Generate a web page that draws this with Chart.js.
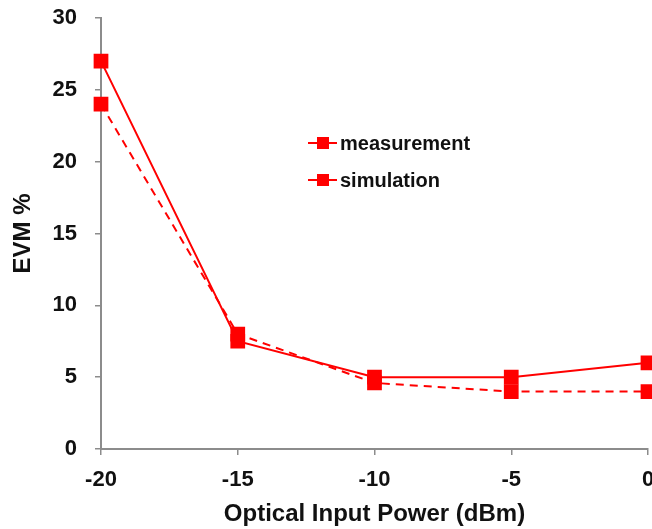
<!DOCTYPE html>
<html>
<head>
<meta charset="utf-8">
<script src="https://cdn.jsdelivr.net/npm/chart.js@4"></script>
<style>
  body { margin: 0; overflow: hidden; background: #fff; }
  #wrap { position: relative; width: 652px; height: 529px; overflow: hidden; }
  canvas { position: absolute; left: 0; top: 0; }
  .legend { position: absolute; left: 308px; font: bold 20px "Liberation Sans", Arial, sans-serif; color: #111; }
  .legend .item { position: relative; height: 37px; line-height: 20px; padding-left: 32px; }
  .legend .ln { position: absolute; left: 0; top: 9px; width: 29px; height: 2px; background: #ff0000; }
  .legend .sq { position: absolute; left: 9px; top: 4px; width: 12px; height: 12px; background: #ff0000; }
</style>
</head>
<body>
<div id="wrap">
  <canvas id="evmChart" width="670" height="529"></canvas>
  <div class="legend" style="top:133px">
    <div class="item"><span class="ln"></span><span class="sq"></span>measurement</div>
    <div class="item"><span class="ln"></span><span class="sq"></span>simulation</div>
  </div>
</div>
<script>
// values
var inputPower = [-20, -15, -10, -5, 0];
var measurement = [27, 7.5, 5, 5, 6];
var simulation = [24, 8, 4.6, 4, 4];
var yTicks = [0, 5, 10, 15, 20, 25, 30];

var red = "#ff0000";
var axisGrey = "#8c8c8c";
var fontFamily = "'Liberation Sans', Arial, sans-serif";
var tickFont = { family: fontFamily, size: 22, weight: "bold" };
var titleFont = { family: fontFamily, size: 24, weight: "bold" };

function toPoints(xs, ys) {
  return xs.map(function (x, i) { return { x: x, y: ys[i] }; });
}

var ctx = document.getElementById("evmChart").getContext("2d");
var evmChart = new Chart(ctx, {
  type: "line",
  data: {
    datasets: [
      {
        label: "measurement",
        data: toPoints(inputPower, measurement),
        borderColor: red,
        backgroundColor: red,
        borderWidth: 2,
        pointStyle: "rect",
        pointRadius: 9,
        pointHoverRadius: 9,
      },
      {
        label: "simulation",
        data: toPoints(inputPower, simulation),
        borderColor: red,
        backgroundColor: red,
        borderWidth: 2,
        borderDash: [8, 6],
        pointStyle: "rect",
        pointRadius: 9,
        pointHoverRadius: 9,
      },
    ],
  },
  options: {
    responsive: false,
    animation: false,
    clip: false,
    layout: { padding: { left: 0, top: 18, right: 22, bottom: 0 } },
    plugins: { legend: { display: false }, tooltip: { enabled: false } },
    scales: {
      x: {
        type: "linear",
        min: -20,
        max: 0,
        afterFit: function (scale) {
          scale.height = 80;
          scale.paddingLeft = 0;
          scale.paddingRight = 0;
        },
        afterBuildTicks: function (scale) {
          scale.ticks = inputPower.map(function (v) { return { value: v }; });
        },
        border: { color: axisGrey, width: 2 },
        grid: { drawOnChartArea: false, color: axisGrey, tickLength: 6, lineWidth: 1.5 },
        ticks: { color: "#111", font: tickFont, padding: 12, maxRotation: 0 },
        title: {
          display: true,
          text: "Optical Input Power (dBm)",
          color: "#111",
          font: titleFont,
          padding: { top: 0, bottom: 0 },
        },
      },
      y: {
        min: 0,
        max: 30,
        afterFit: function (scale) {
          scale.width = 101;
          scale.paddingTop = 0;
          scale.paddingBottom = 0;
        },
        afterBuildTicks: function (scale) {
          scale.ticks = yTicks.map(function (v) { return { value: v }; });
        },
        border: { color: axisGrey, width: 2 },
        grid: { drawOnChartArea: false, color: axisGrey, tickLength: 6, lineWidth: 1.5 },
        ticks: { color: "#111", font: tickFont, padding: 18 },
        title: {
          display: true,
          text: "EVM %",
          color: "#111",
          font: titleFont,
          padding: { top: 9, bottom: 0 },
        },
      },
    },
  },
});
</script>
</body>
</html>
